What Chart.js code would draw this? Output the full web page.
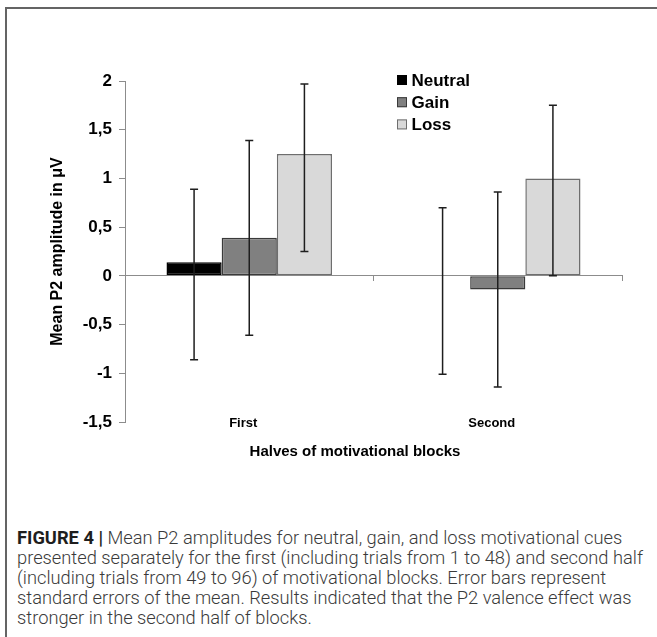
<!DOCTYPE html>
<html>
<head>
<meta charset="utf-8">
<title>Mean P2 amplitudes by half of motivational blocks</title>
<script src="https://cdn.jsdelivr.net/npm/chart.js@4.4.1/dist/chart.umd.min.js"></script>
<style>
  html, body { margin: 0; padding: 0; background: #fff; }
  body { width: 657px; height: 637px; position: relative; overflow: hidden; }
  #frameTop { position: absolute; left: 5px; top: 7px; width: 652px; height: 2px; background: #646464; }
  #frameLeft { position: absolute; left: 5px; top: 7px; width: 2px; height: 630px; background: #646464; }
  #chartBox { position: absolute; left: 0; top: 0; width: 657px; height: 475px; }
  #caption {
    position: absolute; left: 17px; top: 528px;
    font-family: Roboto, "Liberation Sans", Arial, sans-serif;
    font-weight: 300; font-size: 18.3px; line-height: 20px;
    color: #3a3a3a; white-space: nowrap;
  }
  #caption b { font-weight: 700; color: #1e1e1e; }
</style>
</head>
<body>
<div id="frameTop"></div>
<div id="frameLeft"></div>
<div id="chartBox"><canvas id="chart" width="657" height="475"></canvas></div>
<div id="caption">
  <b>FIGURE 4 |</b> Mean P2 amplitudes for neutral, gain, and loss motivational cues<br>
  presented separately for the first (including trials from 1 to 48) and second half<br>
  (including trials from 49 to 96) of motivational blocks. Error bars represent<br>
  standard errors of the mean. Results indicated that the P2 valence effect was<br>
  stronger in the second half of blocks.
</div>

<script>
// Categories (halves of the motivational blocks)
const categories = ['First', 'Second'];

// Mean P2 amplitude (µV) per cue type
const neutralMeans = [0.14, 0.0];
const gainMeans    = [0.39, -0.14];
const lossMeans    = [1.25, 1.0];

// Error bar ends (upper / lower) per cue type
const neutralUpper = [0.89, 0.70];
const neutralLower = [-0.86, -1.01];
const gainUpper    = [1.39, 0.86];
const gainLower    = [-0.61, -1.14];
const lossUpper    = [1.97, 1.75];
const lossLower    = [0.25, 0.0];

// Value axis ticks, written with decimal commas
const yTickValues = [-1.5, -1, -0.5, 0, 0.5, 1, 1.5, 2];
const yTickLabels = ['-1,5', '-1', '-0,5', '0', '0,5', '1', '1,5', '2'];

const yAxisTitle = 'Mean P2 amplitude in μV';
const xAxisTitle = 'Halves of motivational blocks';

const FONT = '"Liberation Sans", Arial, Helvetica, sans-serif';
const AXIS_GRAY = '#8c8c8c';

// Whiskers drawn on top of each bar from the dataset's errUpper / errLower
const errorBars = {
  id: 'errorBars',
  afterDatasetsDraw(chart) {
    const { ctx } = chart;
    const y = chart.scales.y;
    ctx.save();
    ctx.strokeStyle = '#1e1e1e';
    ctx.lineWidth = 1.5;
    chart.data.datasets.forEach((ds, d) => {
      const meta = chart.getDatasetMeta(d);
      meta.data.forEach((bar, j) => {
        const x = bar.x;
        const yTop = y.getPixelForValue(ds.errUpper[j]);
        const yBot = y.getPixelForValue(ds.errLower[j]);
        ctx.beginPath();
        ctx.moveTo(x, yTop); ctx.lineTo(x, yBot);
        ctx.moveTo(x - 4, yTop); ctx.lineTo(x + 4, yTop);
        ctx.moveTo(x - 4, yBot); ctx.lineTo(x + 4, yBot);
        ctx.stroke();
      });
    });
    ctx.restore();
  }
};

// Stacked legend in the upper right of the plot, category names level with the
// bottom of the value axis, and the category-axis title
const annotations = {
  id: 'annotations',
  afterDraw(chart, args, opts) {
    const { ctx, chartArea } = chart;
    const x = chart.scales.x;
    ctx.save();
    ctx.font = 'bold 17px ' + FONT;
    ctx.textBaseline = 'middle';
    ctx.textAlign = 'left';
    chart.data.datasets.forEach((ds, i) => {
      const cy = opts.legendY + i * opts.legendGap;
      ctx.fillStyle = ds.backgroundColor;
      ctx.fillRect(opts.legendX, cy - 5, 10, 10);
      ctx.strokeStyle = ds.borderColor;
      ctx.lineWidth = 1;
      ctx.strokeRect(opts.legendX + 0.5, cy - 4.5, 9, 9);
      ctx.fillStyle = '#000';
      ctx.fillText(ds.label, opts.legendX + 14.5, cy + 1);
    });

    ctx.font = 'bold 13px ' + FONT;
    ctx.textAlign = 'center';
    chart.data.labels.forEach((label, i) => {
      ctx.fillText(label, x.getPixelForTick(i) + opts.labelShift, chartArea.bottom + 1);
    });

    ctx.font = 'bold 15px ' + FONT;
    ctx.fillText(xAxisTitle, opts.titleX, opts.titleY);
    ctx.restore();
  }
};

new Chart(document.getElementById('chart'), {
  type: 'bar',
  data: {
    labels: categories,
    datasets: [
      { label: 'Neutral', data: neutralMeans, errUpper: neutralUpper, errLower: neutralLower,
        backgroundColor: '#000000', borderColor: '#000000', borderWidth: 1.5, xAxisID: 'x', yAxisID: 'y' },
      { label: 'Gain', data: gainMeans, errUpper: gainUpper, errLower: gainLower,
        backgroundColor: '#808080', borderColor: '#3a3a3a', borderWidth: 1.5, xAxisID: 'x', yAxisID: 'y' },
      { label: 'Loss', data: lossMeans, errUpper: lossUpper, errLower: lossLower,
        backgroundColor: '#d9d9d9', borderColor: '#6e6e6e', borderWidth: 1.5, xAxisID: 'x', yAxisID: 'y' }
    ]
  },
  options: {
    responsive: false,
    animation: false,
    devicePixelRatio: 1,
    layout: { padding: { left: 0, right: 35, top: 81, bottom: 23 } },
    datasets: { bar: { categoryPercentage: 0.666, barPercentage: 1.0, borderSkipped: false } },
    plugins: {
      legend: { display: false },
      tooltip: { enabled: false },
      annotations: { legendX: 397, legendY: 80, legendGap: 22.2, labelShift: -6, titleX: 355, titleY: 452 }
    },
    scales: {
      x: {
        type: 'category',
        position: 'bottom',
        offset: true,
        grid: { display: false, drawTicks: false, offset: true },
        border: { display: false },
        ticks: { display: false },
        afterFit(scale) { scale.height = 30; }
      },
      xz: {
        type: 'category',
        axis: 'x',
        position: { y: 0 },
        offset: true,
        grid: { display: true, offset: true, drawOnChartArea: false, drawTicks: true,
                tickLength: 5, color: AXIS_GRAY, tickColor: AXIS_GRAY },
        border: { display: true, color: AXIS_GRAY, width: 1 },
        ticks: { display: false }
      },
      y: {
        position: 'left',
        min: -1.5,
        max: 2,
        ticks: {
          stepSize: 0.5,
          padding: 7,
          color: '#000',
          font: { family: FONT, size: 17, weight: 'bold' },
          callback(value) {
            const i = yTickValues.indexOf(value);
            return i >= 0 ? yTickLabels[i] : '';
          }
        },
        grid: { drawOnChartArea: false, drawTicks: true, tickLength: 6, color: AXIS_GRAY, tickColor: AXIS_GRAY },
        border: { display: true, color: AXIS_GRAY, width: 1 },
        title: { display: true, text: yAxisTitle, color: '#000',
                 font: { family: FONT, size: 16, weight: 'bold' }, padding: { top: 48, bottom: 0 } },
        afterFit(scale) { scale.width = 125; }
      }
    }
  },
  plugins: [errorBars, annotations]
});
</script>
</body>
</html>
